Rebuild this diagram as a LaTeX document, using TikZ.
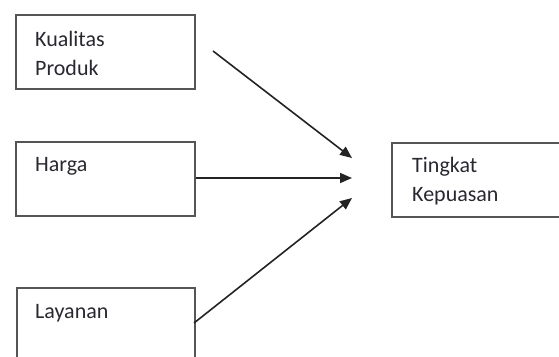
\documentclass[tikz,border=0pt]{standalone}
\usepackage{fontspec}
\setmainfont{Carlito}
\usetikzlibrary{arrows.meta}
\definecolor{boxline}{RGB}{85,85,85}
\definecolor{inkline}{RGB}{35,35,35}
\definecolor{txt}{RGB}{40,40,48}
\begin{document}
\begin{tikzpicture}[x=1pt,y=-1pt,
  box/.style={draw=boxline,line width=1.8pt,inner sep=0pt,anchor=north west},
  lbl/.style={anchor=north west,inner sep=0pt,align=left,text=txt,
    font=\fontsize{22}{29}\selectfont},
  link/.style={draw=inkline,line width=1.6pt,
    -{Triangle[length=12pt,width=10pt]}}]
\useasboundingbox (0,0) rectangle (559,356);
\clip (0,0) rectangle (559,356);
% factor boxes
\node[box,minimum width=179pt,minimum height=74pt] (kp) at (15,14) {};
\node[box,minimum width=179pt,minimum height=74pt] (hg) at (15,141) {};
\node[box,minimum width=178pt,minimum height=76pt] (ly) at (16,287) {};
% outcome box, running past the right edge
\node[box,minimum width=180pt,minimum height=74pt] (tk) at (391,142) {};
% labels
\node[lbl] (kpt) at (35,31) {Kualitas\\Produk};
\node[lbl] (hgt) at (35,157) {Harga};
\node[lbl] (lyt) at (35,304) {Layanan};
\node[lbl] (tkt) at (412,157) {Tingkat\\Kepuasan};
% arrow end points
\coordinate (s1) at (213,51);
\coordinate (e1) at (352,158);
\coordinate (e2) at (352,178);
\coordinate (e3) at (352,198);
\coordinate (s3) at (194,323);
\draw[link] (s1) -- (e1);
\draw[link] (hg.east |- e2) -- (e2);
\draw[link] (s3) -- (e3);
\end{tikzpicture}
\end{document}
